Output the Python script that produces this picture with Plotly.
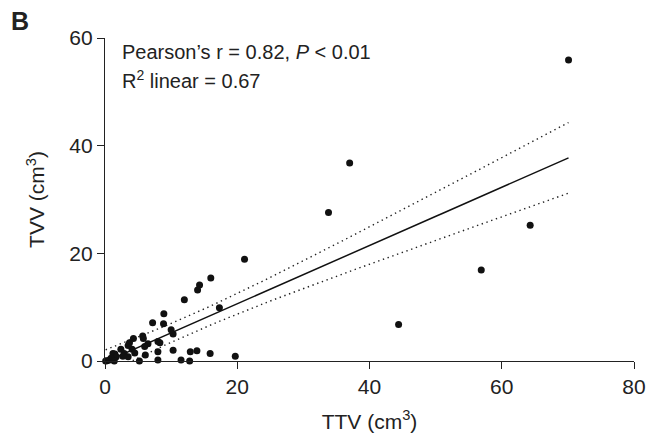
import numpy as np
import plotly.graph_objects as go

# Scatter data (TTV vs TVV, cm^3)
ttv = [70.1, 37.0, 33.8, 64.3, 56.9, 44.4, 21.1, 16.0, 14.3, 14.0, 12.0, 17.3,
       19.7, 15.9, 13.9, 12.9, 12.8, 11.5, 10.3, 10.3, 10.0, 8.9, 8.85, 7.2,
       8.0, 8.3, 8.0, 8.0, 6.5, 6.0, 5.7, 5.8, 6.1, 5.2, 4.3, 3.7, 4.1, 3.5,
       2.4, 2.9, 3.5, 1.5, 1.2, 1.7, 2.7, 0.9, 0.7, 0.3, 1.4, 0.1, 4.5]
tvv = [55.9, 36.8, 27.6, 25.2, 16.9, 6.8, 18.9, 15.4, 14.1, 13.2, 11.4, 9.9,
       0.9, 1.4, 1.9, 1.7, 0.0, 0.2, 2.0, 5.0, 5.8, 8.8, 6.9, 7.1,
       3.6, 3.4, 1.7, 0.2, 3.2, 2.7, 4.65, 4.2, 1.1, 0.0, 4.2, 3.4, 2.2, 2.9,
       2.2, 1.4, 0.8, 1.3, 1.4, 0.8, 0.9, 0.5, 0.2, 0.05, 0.0, 0.0, 1.5]

x_ticks = [0, 20, 40, 60, 80]
y_ticks = [0, 20, 40, 60]

x = np.array(ttv)
y = np.array(tvv)
n = len(x)
slope, intercept = np.polyfit(x, y, 1)
resid = y - (slope * x + intercept)
s = np.sqrt(np.sum(resid ** 2) / (n - 2))
sxx = np.sum((x - x.mean()) ** 2)
xf = np.linspace(x.min(), x.max(), 100)
yf = slope * xf + intercept
hw = 2.0 * s * np.sqrt(1 / n + (xf - x.mean()) ** 2 / sxx)

fig = go.Figure()
fig.add_trace(go.Scatter(x=xf, y=yf + hw, mode="lines",
                         line=dict(color="#222", width=1.4, dash="1.4px,3.6px"),
                         hoverinfo="skip"))
fig.add_trace(go.Scatter(x=xf, y=yf - hw, mode="lines",
                         line=dict(color="#222", width=1.4, dash="1.4px,3.6px"),
                         hoverinfo="skip"))
fig.add_trace(go.Scatter(x=xf, y=yf, mode="lines",
                         line=dict(color="#111", width=1.5), hoverinfo="skip"))
fig.add_trace(go.Scatter(x=ttv, y=tvv, mode="markers",
                         marker=dict(color="#111", size=7), cliponaxis=False))

font = "Liberation Sans, Arial, sans-serif"
fig.update_layout(
    width=649, height=434,
    margin=dict(l=105, r=15, t=38, b=73),
    paper_bgcolor="white", plot_bgcolor="white",
    showlegend=False,
    font=dict(family=font, size=21, color="#222"),
    xaxis=dict(range=[0, 80], tickvals=x_ticks, showgrid=False, zeroline=False,
               showline=True, linecolor="#222", linewidth=1.4, automargin=False,
               ticks="outside", ticklen=7, tickwidth=1.3, tickcolor="#222",
               tickfont=dict(size=21),
               title=dict(text="TTV (cm<sup>3</sup>)", standoff=16,
                          font=dict(size=21))),
    yaxis=dict(range=[0, 60], tickvals=y_ticks, showgrid=False, zeroline=False,
               showline=True, linecolor="#222", linewidth=1.4, automargin=False,
               ticks="outside", ticklen=7, tickwidth=1.3, tickcolor="#222",
               tickfont=dict(size=21),
               title=dict(text="TVV (cm<sup>3</sup>)", standoff=18,
                          font=dict(size=21))),
    annotations=[
        dict(text="<b>B</b>", xref="paper", yref="paper", x=-0.161, y=1.054,
             xanchor="center", yanchor="middle", showarrow=False,
             font=dict(size=25, family=font, color="#222")),
        dict(text="Pearson\u2019s r = 0.82, <i>P</i> < 0.01", xref="paper",
             yref="paper", x=0.029, y=0.958, xanchor="left", yanchor="middle",
             showarrow=False, font=dict(size=20, family=font, color="#222")),
        dict(text="R<sup>2</sup> linear = 0.67", xref="paper", yref="paper",
             x=0.029, y=0.872, xanchor="left", yanchor="middle",
             showarrow=False, font=dict(size=20, family=font, color="#222")),
    ],
)

fig.write_html("out.html",
               config={"displayModeBar": False},
               post_script="document.body.style.margin='0';"
                           "document.body.style.overflow='hidden';")
